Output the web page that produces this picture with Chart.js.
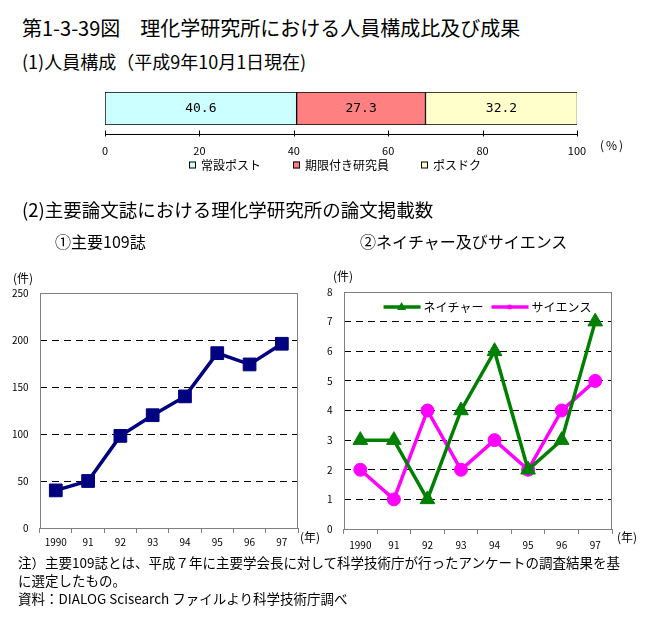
<!DOCTYPE html>
<html lang="ja">
<head>
<meta charset="UTF-8">
<title>理化学研究所における人員構成比及び成果</title>
<script src="https://cdn.jsdelivr.net/npm/chart.js@4.4.0/dist/chart.umd.min.js"></script>
<style>
    body { margin: 0; background: #fff; font-family: "Noto Sans CJK JP", sans-serif; color: #000; }
    #page { position: relative; width: 648px; height: 630px; overflow: hidden; }
    .t { position: absolute; white-space: nowrap; line-height: 1; }
    .box { position: absolute; }
</style>
</head>
<body>
<div id="page">
    <div class="t" style="left:22px;top:18px;font-size:20px">第1-3-39図　理化学研究所における人員構成比及び成果</div>
    <div class="t" style="left:22px;top:52px;font-size:18px">(1)人員構成（平成9年10月1日現在)</div>

    <div class="box" style="left:0;top:80px;width:648px;height:120px"><canvas id="staff"></canvas></div>
    <div class="t" style="left:600px;top:139px;font-size:12px;letter-spacing:2px">(%)</div>

    <div class="t" style="left:22px;top:200px;font-size:18.5px">(2)主要論文誌における理化学研究所の論文掲載数</div>
    <div class="t" style="left:55px;top:233px;font-size:16px">①主要109誌</div>
    <div class="t" style="left:360px;top:233px;font-size:16px">②ネイチャー及びサイエンス</div>

    <div class="box" style="left:0;top:265px;width:325px;height:300px"><canvas id="major"></canvas></div>
    <div class="t" style="left:13px;top:272px;font-size:12px">(件)</div>
    <div class="t" style="left:300px;top:531px;font-size:12px">(年)</div>

    <div class="box" style="left:310px;top:265px;width:338px;height:300px"><canvas id="ns"></canvas></div>
    <div class="t" style="left:333px;top:270px;font-size:12px">(件)</div>
    <div class="t" style="left:617px;top:531px;font-size:12px">(年)</div>

    <div class="t" style="left:18px;top:556px;font-size:13.5px">注）主要109誌とは、平成７年に主要学会長に対して科学技術庁が行ったアンケートの調査結果を基</div>
    <div class="t" style="left:18px;top:574px;font-size:13.5px">に選定したもの。</div>
    <div class="t" style="left:18px;top:592px;font-size:13.5px">資料：DIALOG Scisearch ファイルより科学技術庁調べ</div>
</div>

<script>
    // (1) 人員構成 (%)
    const staffLabels = ['常設ポスト', '期限付き研究員', 'ポスドク'];
    const staffShare = [40.6, 27.3, 32.2];
    const staffColors = ['#ccffff', '#ff8080', '#ffffcc'];

    // (2) 論文掲載数
    const years = ['1990', '91', '92', '93', '94', '95', '96', '97'];
    const major109 = [40, 50, 98, 120, 140, 186, 174, 196];
    const nature = [3, 3, 1, 4, 6, 2, 3, 7];
    const science = [2, 1, 4, 2, 3, 2, 4, 5];

    const FONT = '"Noto Sans CJK JP", sans-serif';
    Chart.defaults.font.family = FONT;
    Chart.defaults.color = '#000';

    // 数値ラベル（棒の中央）
    const barValueLabels = {
        id: 'barValueLabels',
        afterDatasetsDraw(chart) {
            const ctx = chart.ctx;
            ctx.save();
            ctx.font = '13px "DejaVu Sans Mono"';
            ctx.fillStyle = '#000';
            ctx.textAlign = 'center';
            ctx.textBaseline = 'middle';
            chart.data.datasets.forEach((ds, i) => {
                const p = chart.getDatasetMeta(i).data[0].getCenterPoint();
                ctx.fillText(ds.data[0].toFixed(1), p.x, p.y);
            });
            ctx.restore();
        }
    };

    // 目盛り線（棒の下に離して描く）
    const percentAxis = {
        id: 'percentAxis',
        afterDraw(chart) {
            const { ctx, chartArea: a } = chart;
            const x = chart.scales.x;
            const y = a.bottom + 9.5;
            ctx.save();
            ctx.strokeStyle = '#000';
            ctx.lineWidth = 1;
            ctx.beginPath();
            ctx.moveTo(x.getPixelForValue(0), y);
            ctx.lineTo(x.getPixelForValue(100), y);
            x.ticks.forEach(t => {
                const px = Math.round(x.getPixelForValue(t.value)) + 0.5;
                ctx.moveTo(px, y - 4);
                ctx.lineTo(px, y + 2);
            });
            ctx.stroke();
            ctx.restore();
        }
    };

    // 凡例（四角＋文字）
    const staffLegend = {
        id: 'staffLegend',
        afterDraw(chart) {
            const { ctx, chartArea: a } = chart;
            const y = a.bottom + 40;
            ctx.save();
            ctx.font = '12px ' + FONT;
            ctx.textBaseline = 'middle';
            const gap = 32;
            const widths = chart.data.datasets.map(ds => 12 + ctx.measureText(ds.label).width);
            const total = widths.reduce((s, w) => s + w, 0) + gap * (widths.length - 1);
            let x = (a.left + a.right) / 2 - 6 - total / 2;
            chart.data.datasets.forEach((ds, i) => {
                ctx.fillStyle = ds.backgroundColor;
                ctx.fillRect(x, y - 3.5, 7, 7);
                ctx.strokeStyle = '#000';
                ctx.lineWidth = 1;
                ctx.strokeRect(x + 0.5, y - 3, 6, 6);
                ctx.fillStyle = '#000';
                ctx.fillText(ds.label, x + 12, y);
                x += widths[i] + gap;
            });
            ctx.restore();
        }
    };

    new Chart(document.getElementById('staff'), {
        type: 'bar',
        data: {
            labels: [''],
            datasets: staffLabels.map((l, i) => ({
                label: l,
                data: [staffShare[i]],
                backgroundColor: staffColors[i],
                borderColor: '#000',
                borderWidth: 1,
                borderSkipped: false,
                barPercentage: 1,
                categoryPercentage: 1
            }))
        },
        options: {
            indexAxis: 'y',
            responsive: true,
            maintainAspectRatio: false,
            animation: false,
            layout: { padding: { left: 105, right: 71, top: 12, bottom: 42 } },
            plugins: { legend: { display: false }, tooltip: { enabled: false } },
            scales: {
                x: {
                    stacked: true, min: 0, max: 100,
                    grid: { display: false, drawTicks: false },
                    border: { display: false },
                    ticks: { stepSize: 20, padding: 19, font: { size: 11 } }
                },
                y: { stacked: true, display: false }
            }
        },
        plugins: [barValueLabels, percentAxis, staffLegend]
    });

    // 枠線（灰色）
    const frame = {
        id: 'frame',
        beforeDatasetsDraw(chart) {
            const { ctx, chartArea: a } = chart;
            ctx.save();
            ctx.strokeStyle = '#808080';
            ctx.lineWidth = 1;
            ctx.strokeRect(Math.round(a.left) + 0.5, Math.round(a.top) + 0.5,
                Math.round(a.width) - 1, Math.round(a.height));
            ctx.restore();
        }
    };

    function lineScales(max, step, pad, labelPad) {
        return {
            x: {
                offset: true,
                grid: { offset: true, drawOnChartArea: false, drawTicks: true, tickLength: 5, color: '#808080' },
                border: { display: false },
                ticks: { padding: labelPad, maxRotation: 0, autoSkip: false, font: { size: 10 } }
            },
            y: {
                min: 0, max: max,
                grid: {
                    drawTicks: false,
                    color: c => (c.tick.value === 0 || c.tick.value === max) ? 'rgba(0,0,0,0)' : '#000'
                },
                border: { display: false, dash: [7, 5] },
                ticks: { stepSize: step, padding: pad, font: { size: 10 } }
            }
        };
    }

    new Chart(document.getElementById('major'), {
        type: 'line',
        data: {
            labels: years,
            datasets: [{
                label: '主要109誌',
                data: major109,
                borderColor: '#000080',
                backgroundColor: '#000080',
                borderWidth: 3.5,
                pointStyle: 'rect',
                pointRadius: 9,
                pointBorderWidth: 1,
                tension: 0,
                clip: false
            }]
        },
        options: {
            responsive: true,
            maintainAspectRatio: false,
            animation: false,
            layout: { padding: { left: 1, right: 27, top: 28, bottom: 14 } },
            plugins: { legend: { display: false }, tooltip: { enabled: false } },
            scales: lineScales(250, 50, 11, 3)
        },
        plugins: [frame]
    });

    // グラフ内の凡例（線＋マーカー＋文字）
    const inlineLegend = {
        id: 'inlineLegend',
        afterDraw(chart) {
            const { ctx, chartArea: a } = chart;
            const y = a.top + 15;
            const starts = [a.left + 40, a.left + 148];
            ctx.save();
            ctx.font = '12px ' + FONT;
            ctx.textBaseline = 'middle';
            chart.data.datasets.forEach((ds, i) => {
                const x = starts[i];
                ctx.strokeStyle = ds.borderColor;
                ctx.fillStyle = ds.borderColor;
                ctx.lineWidth = 3.5;
                ctx.beginPath();
                ctx.moveTo(x, y);
                ctx.lineTo(x + 37, y);
                ctx.stroke();
                const cx = x + 18;
                ctx.beginPath();
                if (ds.pointStyle === 'triangle') {
                    ctx.moveTo(cx, y - 5);
                    ctx.lineTo(cx + 4.5, y + 3);
                    ctx.lineTo(cx - 4.5, y + 3);
                    ctx.closePath();
                } else {
                    ctx.arc(cx, y, 2.5, 0, Math.PI * 2);
                }
                ctx.fill();
                ctx.fillStyle = '#000';
                ctx.fillText(ds.label, x + 40, y);
            });
            ctx.restore();
        }
    };

    new Chart(document.getElementById('ns'), {
        type: 'line',
        data: {
            labels: years,
            datasets: [{
                label: 'ネイチャー',
                data: nature,
                borderColor: '#008000',
                backgroundColor: '#008000',
                borderWidth: 3.5,
                pointStyle: 'triangle',
                pointRadius: 8.5,
                pointBorderWidth: 1,
                tension: 0,
                clip: false
            }, {
                label: 'サイエンス',
                data: science,
                borderColor: '#ff00ff',
                backgroundColor: '#ff00ff',
                borderWidth: 3.5,
                pointStyle: 'circle',
                pointRadius: 6.5,
                pointBorderWidth: 1,
                tension: 0,
                clip: false
            }]
        },
        options: {
            responsive: true,
            maintainAspectRatio: false,
            animation: false,
            layout: { padding: { left: 6, right: 36, top: 27, bottom: 9 } },
            plugins: { legend: { display: false }, tooltip: { enabled: false } },
            scales: lineScales(8, 1, 11, 5)
        },
        plugins: [frame, inlineLegend]
    });
</script>
</body>
</html>
